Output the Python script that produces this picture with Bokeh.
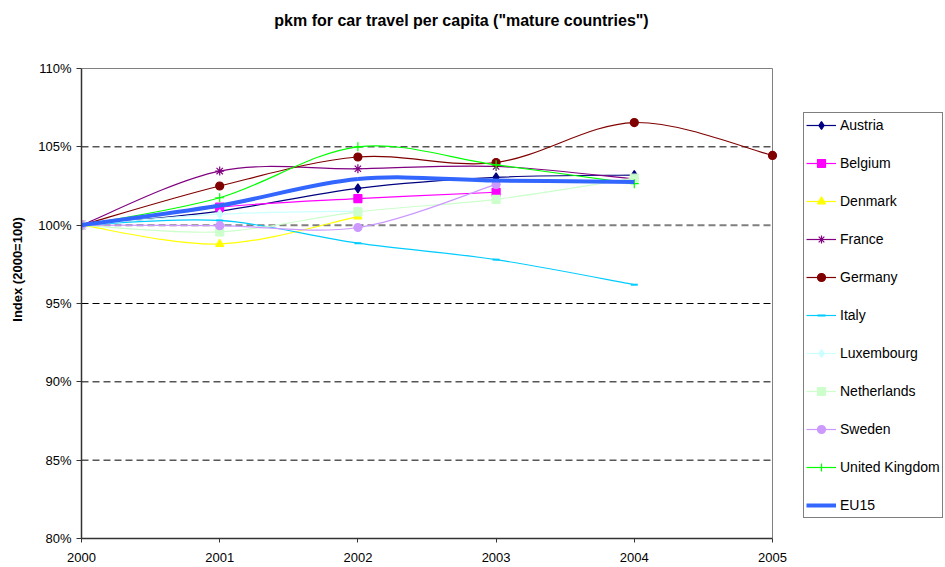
import numpy as np
from bokeh.plotting import figure
from bokeh.models import (ColumnDataSource, Legend, LegendItem, FixedTicker,
                          PrintfTickFormatter, Range1d, Label)
from bokeh.embed import file_html
from bokeh.resources import INLINE

# Passenger-km by car per capita, index 2000 = 100
years = [2000, 2001, 2002, 2003, 2004, 2005]

austria = [100.0, 100.9, 102.35, 103.05, 103.2]
belgium = [100.0, 101.15, 101.7, 102.1]
denmark = [100.0, 98.8, 100.55]
france = [100.0, 103.45, 103.6, 103.75, 102.95]
germany = [100.0, 102.5, 104.35, 104.0, 106.55, 104.45]
italy = [100.0, 100.3, 98.85, 97.8, 96.2]
luxembourg = [100.0, 100.7, 100.9]
netherlands = [100.0, 99.57, 100.85, 101.65, 103.0]
sweden = [100.0, 99.97, 99.85, 102.6]
united_kingdom = [100.0, 101.75, 105.0, 103.85, 102.65]
eu15 = [100.0, 101.25, 102.95, 102.85, 102.75]

y_ticks = [80, 85, 90, 95, 100, 105, 110]
grid_ticks = [85, 90, 95, 105]
base_tick = [100]

FONT = "Liberation Sans"
W, H = 945, 567
# plot box in pixels (left, right, top, bottom); the frame is widened to the
# right and upwards so that the title and legend can live inside it
BOX_L, BOX_R, BOX_T, BOX_B = 81, 772, 68, 538

# name, values, colour, marker, marker size, line width
series = [
    ("Austria", austria, "#000080", "diamond", 9, 1.2),
    ("Belgium", belgium, "#FF00FF", "square", 8, 1.2),
    ("Denmark", denmark, "#FFFF00", "triangle", 8, 1.2),
    ("France", france, "#800080", "asterisk", 9, 1.2),
    ("Germany", germany, "#800000", "circle", 8, 1.2),
    ("Italy", italy, "#00CCFF", "dash", 7, 1.2),
    ("Luxembourg", luxembourg, "#CCFFFF", "diamond", 9, 1.2),
    ("Netherlands", netherlands, "#CCFFCC", "square", 8, 1.2),
    ("Sweden", sweden, "#CC99FF", "circle", 8, 1.2),
    ("United Kingdom", united_kingdom, "#00FF00", "cross", 9, 1.2),
    ("EU15", eu15, "#3366FF", None, 0, 4.0),
]


def smooth_segments(xs, ys):
    """Cubic Bezier segments (Catmull-Rom style) through the given points."""
    x = np.asarray(xs, dtype=float)
    y = np.asarray(ys, dtype=float)
    n = len(x)
    d = dict(x0=[], y0=[], x1=[], y1=[], cx0=[], cy0=[], cx1=[], cy1=[])
    for i in range(n - 1):
        a = max(i - 1, 0)
        b = min(i + 2, n - 1)
        d["x0"].append(x[i]); d["y0"].append(y[i])
        d["x1"].append(x[i + 1]); d["y1"].append(y[i + 1])
        d["cx0"].append(x[i] + (x[i + 1] - x[a]) / 6.0)
        d["cy0"].append(y[i] + (y[i + 1] - y[a]) / 6.0)
        d["cx1"].append(x[i + 1] - (x[b] - x[i]) / 6.0)
        d["cy1"].append(y[i + 1] - (y[b] - y[i]) / 6.0)
    return ColumnDataSource(d)


x_lo, x_hi = years[0], years[-1]
y_lo, y_hi = y_ticks[0], y_ticks[-1]
x_end = x_lo + (x_hi - x_lo) * (W - BOX_L) / (BOX_R - BOX_L)
y_end = y_lo + (y_hi - y_lo) * BOX_B / (BOX_B - BOX_T)

p = figure(width=W, height=H, output_backend="svg", toolbar_location=None,
           title=None,
           x_range=Range1d(x_lo, x_end), y_range=Range1d(y_lo, y_end),
           min_border_left=BOX_L, min_border_right=0,
           min_border_top=0, min_border_bottom=H - BOX_B)

p.background_fill_color = "white"
p.border_fill_color = "white"
p.outline_line_color = None

# axes limited to the plot box
p.xaxis.ticker = FixedTicker(ticks=years)
p.yaxis.ticker = FixedTicker(ticks=y_ticks)
p.xaxis.bounds = (x_lo, x_hi)
p.yaxis.bounds = (y_lo, y_hi)
p.yaxis.formatter = PrintfTickFormatter(format="%d%%")
for ax in (p.xaxis, p.yaxis):
    ax.axis_line_color = "#333333"
    ax.axis_line_width = 1.5
    ax.major_tick_line_color = "#333333"
    ax.major_tick_in = 0
    ax.minor_tick_line_color = None
    ax.major_label_text_font = FONT
    ax.major_label_text_font_size = "13px"
    ax.major_label_text_color = "black"
p.xaxis.major_tick_out = 4
p.xaxis.major_label_standoff = 10
p.yaxis.major_tick_out = 5
p.yaxis.major_label_standoff = 5
p.yaxis.axis_label = "Index (2000=100)"
p.yaxis.axis_label_text_font = FONT
p.yaxis.axis_label_text_font_size = "13px"
p.yaxis.axis_label_text_font_style = "bold"
p.yaxis.axis_label_text_color = "black"
p.yaxis.axis_label_standoff = 10

# dashed grid lines, drawn only across the plot box
p.xgrid.visible = False
p.ygrid.visible = False
grid_src = ColumnDataSource(dict(y=grid_ticks))
p.segment(x0=x_lo, x1=x_hi, y0="y", y1="y", source=grid_src,
          line_color="black", line_width=1, line_dash="7 4", level="underlay")
base_src = ColumnDataSource(dict(y=base_tick))
p.segment(x0=x_lo, x1=x_hi, y0="y", y1="y", source=base_src,
          line_color="#808080", line_width=2, line_dash="7 4", level="underlay")

# grey box edges at the top and right
p.segment(x0=x_lo, x1=x_hi, y0=y_hi, y1=y_hi, line_color="#808080",
          line_width=1, level="underlay")
p.segment(x0=x_hi, x1=x_hi, y0=y_lo, y1=y_hi, line_color="#808080",
          line_width=1, level="underlay")

items = []
for name, vals, color, marker, size, lw in series:
    xs = years[:len(vals)]
    line_r = p.bezier(x0="x0", y0="y0", x1="x1", y1="y1",
                      cx0="cx0", cy0="cy0", cx1="cx1", cy1="cy1",
                      source=smooth_segments(xs, vals),
                      line_color=color, line_width=lw)
    rends = [line_r]
    if marker:
        src = ColumnDataSource(dict(x=xs, y=vals))
        lw_m = 2 if marker == "dash" else 1.2
        sc = p.scatter("x", "y", source=src, marker=marker, size=size,
                       fill_color=color, line_color=color, line_width=lw_m)
        rends.append(sc)
    items.append(LegendItem(label=name, renderers=rends))

# title, centred a little right of the plot box centre
p.add_layout(Label(x=461 - BOX_L, y=BOX_B - 20, x_units="screen", y_units="screen",
                   text='pkm for car travel per capita ("mature countries")',
                   text_font=FONT, text_font_size="16px", text_font_style="bold",
                   text_color="black", text_align="center",
                   text_baseline="middle"))

legend = Legend(items=items, location=(803 - BOX_L, BOX_B - 518), margin=0,
                padding=2, spacing=18, glyph_width=30, glyph_height=20,
                label_height=20, label_standoff=4,
                label_text_font=FONT, label_text_font_size="14px",
                label_text_color="black",
                border_line_color="black", border_line_width=1,
                background_fill_color="white", background_fill_alpha=1)
p.add_layout(legend, "center")

open("out.html", "w").write(file_html(p, INLINE))
